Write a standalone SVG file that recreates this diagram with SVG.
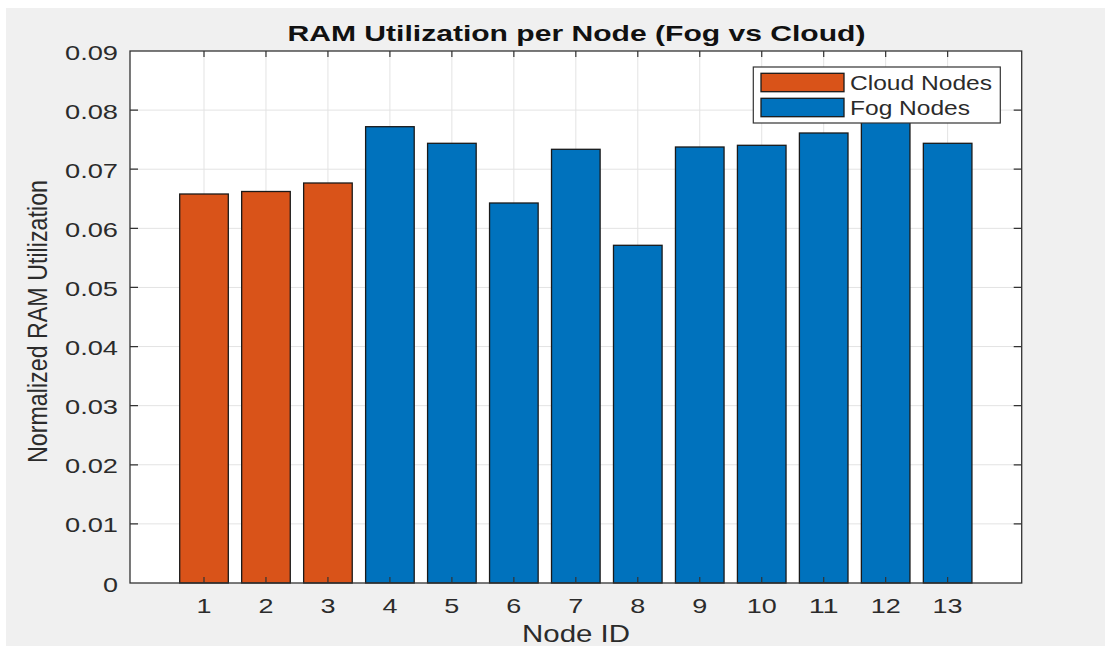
<svg xmlns="http://www.w3.org/2000/svg" width="1105" height="646" viewBox="0 0 1105 646">
<style>
.grid{stroke:#e3e3e3;stroke-width:1;fill:none}
.tick{stroke:#333;stroke-width:1.2;fill:none}
.cloud{fill:#D95319;stroke:#1a1a1a;stroke-width:1.3}
.fog{fill:#0072BD;stroke:#1a1a1a;stroke-width:1.3}
.tl{font-family:"Liberation Sans",Arial,sans-serif;font-size:21px;fill:#2b2b2b}
.xl{text-anchor:middle}
.yl{text-anchor:end}
.lab{font-family:"Liberation Sans",Arial,sans-serif;fill:#2b2b2b}
</style>
<rect x="0" y="0" width="1105" height="646" fill="#ffffff"/>
<rect x="6" y="8" width="1099" height="638" fill="#f0f0f0"/>
<g id="axes-bg">
<rect x="130" y="51" width="891.7" height="532" fill="#ffffff"/>
</g>
<g id="grid">
<path class="grid" d="M204 51V583M265.97 51V583M327.94 51V583M389.91 51V583M451.88 51V583M513.85 51V583M575.82 51V583M637.79 51V583M699.76 51V583M761.73 51V583M823.7 51V583M885.67 51V583M947.64 51V583"/>
<path class="grid" d="M130 523.89H1021.7M130 464.78H1021.7M130 405.67H1021.7M130 346.56H1021.7M130 287.44H1021.7M130 228.33H1021.7M130 169.22H1021.7M130 110.11H1021.7"/>
</g>
<g id="bars">
<rect id="bar1" class="cloud" x="179.7" y="194" width="48.6" height="389"/>
<rect id="bar2" class="cloud" x="241.67" y="191.5" width="48.6" height="391.5"/>
<rect id="bar3" class="cloud" x="303.64" y="183" width="48.6" height="400"/>
<rect id="bar4" class="fog" x="365.61" y="126.7" width="48.6" height="456.3"/>
<rect id="bar5" class="fog" x="427.58" y="143.3" width="48.6" height="439.7"/>
<rect id="bar6" class="fog" x="489.55" y="203" width="48.6" height="380"/>
<rect id="bar7" class="fog" x="551.52" y="149.3" width="48.6" height="433.7"/>
<rect id="bar8" class="fog" x="613.49" y="245.3" width="48.6" height="337.7"/>
<rect id="bar9" class="fog" x="675.46" y="147" width="48.6" height="436"/>
<rect id="bar10" class="fog" x="737.43" y="145.3" width="48.6" height="437.7"/>
<rect id="bar11" class="fog" x="799.4" y="133" width="48.6" height="450"/>
<rect id="bar12" class="fog" x="861.37" y="119" width="48.6" height="464"/>
<rect id="bar13" class="fog" x="923.34" y="143.3" width="48.6" height="439.7"/>
</g>
<g id="ticks">
<path class="tick" d="M204 583V577M265.97 583V577M327.94 583V577M389.91 583V577M451.88 583V577M513.85 583V577M575.82 583V577M637.79 583V577M699.76 583V577M761.73 583V577M823.7 583V577M885.67 583V577M947.64 583V577"/>
<path class="tick" d="M204 51V57M265.97 51V57M327.94 51V57M389.91 51V57M451.88 51V57M513.85 51V57M575.82 51V57M637.79 51V57M699.76 51V57M761.73 51V57M823.7 51V57M885.67 51V57M947.64 51V57"/>
<path class="tick" d="M130 523.89H138M130 464.78H138M130 405.67H138M130 346.56H138M130 287.44H138M130 228.33H138M130 169.22H138M130 110.11H138"/>
<path class="tick" d="M1021.7 523.89H1013.7M1021.7 464.78H1013.7M1021.7 405.67H1013.7M1021.7 346.56H1013.7M1021.7 287.44H1013.7M1021.7 228.33H1013.7M1021.7 169.22H1013.7M1021.7 110.11H1013.7"/>
<rect x="130" y="51" width="891.7" height="532" fill="none" stroke="#333" stroke-width="1.3"/>
</g>
<g id="xticklabels" class="tl xl">
<text x="204" y="613" textLength="15" lengthAdjust="spacingAndGlyphs">1</text>
<text x="265.97" y="613" textLength="15" lengthAdjust="spacingAndGlyphs">2</text>
<text x="327.94" y="613" textLength="15" lengthAdjust="spacingAndGlyphs">3</text>
<text x="389.91" y="613" textLength="15" lengthAdjust="spacingAndGlyphs">4</text>
<text x="451.88" y="613" textLength="15" lengthAdjust="spacingAndGlyphs">5</text>
<text x="513.85" y="613" textLength="15" lengthAdjust="spacingAndGlyphs">6</text>
<text x="575.82" y="613" textLength="15" lengthAdjust="spacingAndGlyphs">7</text>
<text x="637.79" y="613" textLength="15" lengthAdjust="spacingAndGlyphs">8</text>
<text x="699.76" y="613" textLength="15" lengthAdjust="spacingAndGlyphs">9</text>
<text x="761.73" y="613" textLength="30" lengthAdjust="spacingAndGlyphs">10</text>
<text x="823.7" y="613" textLength="30" lengthAdjust="spacingAndGlyphs">11</text>
<text x="885.67" y="613" textLength="30" lengthAdjust="spacingAndGlyphs">12</text>
<text x="947.64" y="613" textLength="30" lengthAdjust="spacingAndGlyphs">13</text>
</g>
<g id="yticklabels" class="tl yl">
<text x="118" y="591.5" textLength="15" lengthAdjust="spacingAndGlyphs">0</text>
<text x="118" y="532.4" textLength="53" lengthAdjust="spacingAndGlyphs">0.01</text>
<text x="118" y="473.3" textLength="53" lengthAdjust="spacingAndGlyphs">0.02</text>
<text x="118" y="414.2" textLength="53" lengthAdjust="spacingAndGlyphs">0.03</text>
<text x="118" y="355.1" textLength="53" lengthAdjust="spacingAndGlyphs">0.04</text>
<text x="118" y="296" textLength="53" lengthAdjust="spacingAndGlyphs">0.05</text>
<text x="118" y="236.8" textLength="53" lengthAdjust="spacingAndGlyphs">0.06</text>
<text x="118" y="177.7" textLength="53" lengthAdjust="spacingAndGlyphs">0.07</text>
<text x="118" y="118.6" textLength="53" lengthAdjust="spacingAndGlyphs">0.08</text>
<text x="118" y="59.5" textLength="53" lengthAdjust="spacingAndGlyphs">0.09</text>
</g>
<g id="labels">
<text class="lab" x="576.5" y="41" text-anchor="middle" font-size="22" font-weight="bold" style="fill:#111" textLength="578" lengthAdjust="spacingAndGlyphs">RAM Utilization per Node (Fog vs Cloud)</text>
<text class="lab" x="576" y="642" text-anchor="middle" font-size="24" textLength="108" lengthAdjust="spacingAndGlyphs">Node ID</text>
<text class="lab" transform="translate(47,321.5) rotate(-90)" x="0" y="0" text-anchor="middle" font-size="28" textLength="283" lengthAdjust="spacingAndGlyphs">Normalized RAM Utilization</text>
</g>
<g id="legend">
<rect x="753.3" y="67" width="247" height="56" fill="#ffffff" stroke="#333" stroke-width="1.2"/>
<rect class="cloud" x="761" y="73.3" width="83" height="18.4"/>
<rect class="fog" x="761" y="98.3" width="83" height="18.4"/>
<text class="lab" x="850" y="90" font-size="20" textLength="142" lengthAdjust="spacingAndGlyphs">Cloud Nodes</text>
<text class="lab" x="850" y="115" font-size="20" textLength="120" lengthAdjust="spacingAndGlyphs">Fog Nodes</text>
</g>
</svg>
